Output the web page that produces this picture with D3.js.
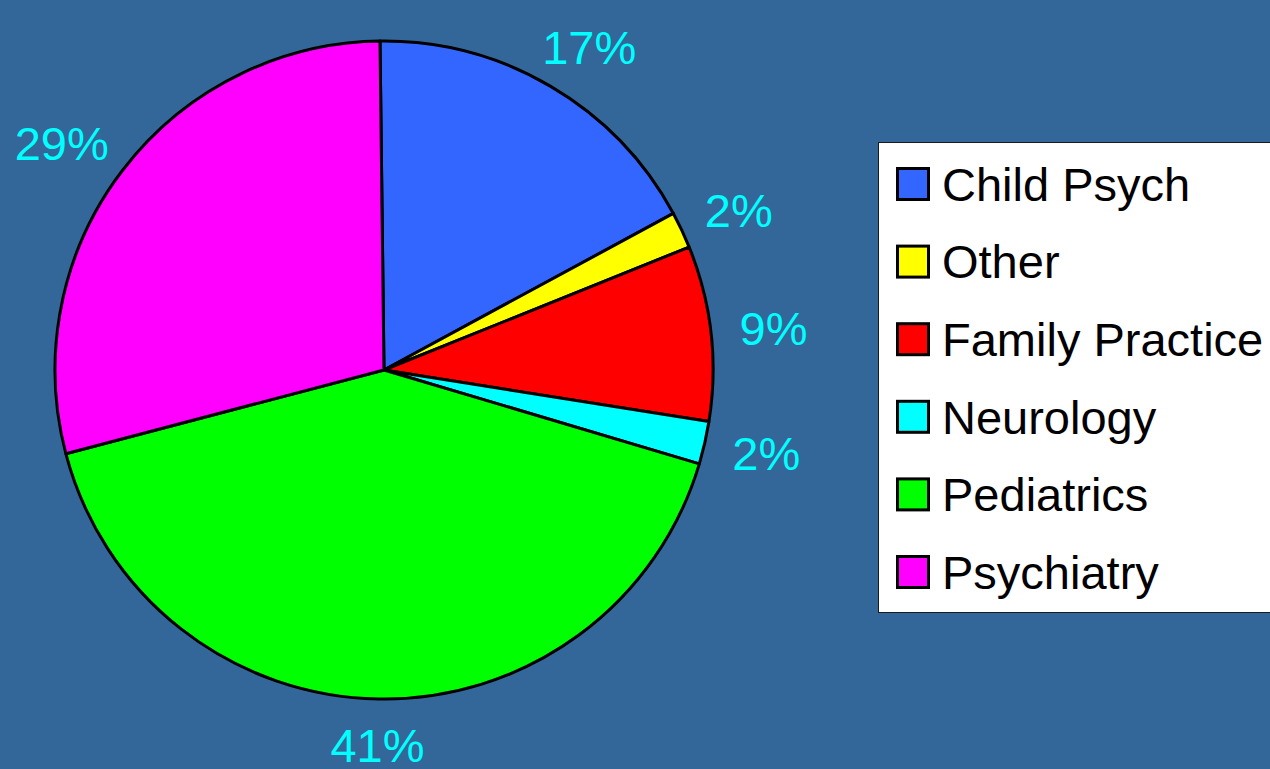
<!DOCTYPE html>
<html>
<head>
<meta charset="utf-8">
<script src="https://cdnjs.cloudflare.com/ajax/libs/d3/7.8.5/d3.min.js"></script>
<style>
  html, body { margin: 0; padding: 0; background: #336699; overflow: hidden; }
  text { font-family: "Liberation Sans", Arial, sans-serif; }
</style>
</head>
<body>
<div id="chart"></div>
<script>
var categories = ["Child Psych", "Other", "Family Practice", "Neurology", "Pediatrics", "Psychiatry"];
var values = [17.3, 1.8, 8.6, 2.1, 41.3, 28.9];
var colors = ["#3366ff", "#ffff00", "#ff0000", "#00ffff", "#00ff00", "#ff00ff"];

var width = 1270,
    height = 769;

var cx = 384, cy = 370, radius = 329;
var labelRadius = 358;
var fontSize = 47;

var svg = d3.select("#chart")
            .append("svg")
            .attr("width", width)
            .attr("height", height);

svg.append("rect")
   .attr("width", width)
   .attr("height", height)
   .attr("fill", "#336699");

var startOffset = -0.7 * Math.PI / 180;

var pie = d3.pie()
            .sort(null)
            .startAngle(startOffset)
            .endAngle(2 * Math.PI + startOffset);

var arc = d3.arc()
            .innerRadius(0)
            .outerRadius(radius);

var total = d3.sum(values);
var arcs = pie(values);

var g = svg.append("g")
           .attr("transform", "translate(" + cx + "," + cy + ")");

g.selectAll("path")
 .data(arcs)
 .enter().append("path")
 .attr("d", arc)
 .style("fill", function(d, i) { return colors[i]; })
 .style("stroke", "black")
 .style("stroke-width", 3)
 .style("stroke-linejoin", "round");

// outside-end labels, box pushed away from the edge point
var capH = fontSize * 0.716;
g.selectAll("text.pct")
 .data(arcs)
 .enter().append("text")
 .attr("class", "pct")
 .attr("font-size", fontSize)
 .attr("fill", "#00ffff")
 .attr("text-anchor", "middle")
 .text(function(d) { return Math.round(d.value / total * 100) + "%"; })
 .each(function(d) {
   var a = (d.startAngle + d.endAngle) / 2;
   var w = this.getComputedTextLength();
   var px = Math.sin(a) * labelRadius + Math.sin(a) * w / 2;
   var py = -Math.cos(a) * labelRadius - Math.cos(a) * capH / 2;
   d3.select(this).attr("x", px).attr("y", py + capH / 2);
 });

// legend
var legend = svg.append("g")
                .attr("transform", "translate(878,142)");

legend.append("rect")
      .attr("x", 0.5)
      .attr("y", 0.5)
      .attr("width", 420)
      .attr("height", 470)
      .attr("fill", "white")
      .attr("stroke", "#1a1a1a")
      .attr("stroke-width", 1);

var rowY = d3.scalePoint()
             .domain(categories)
             .range([42, 430]);

var rows = legend.selectAll("g.row")
                 .data(categories)
                 .enter().append("g")
                 .attr("class", "row")
                 .attr("transform", function(d) { return "translate(0," + rowY(d) + ")"; });

rows.append("rect")
    .attr("x", 19.5)
    .attr("y", -15.5)
    .attr("width", 31)
    .attr("height", 31)
    .attr("fill", function(d, i) { return colors[i]; })
    .attr("stroke", "black")
    .attr("stroke-width", 3);

rows.append("text")
    .attr("x", 64)
    .attr("y", capH / 2)
    .attr("font-size", fontSize)
    .attr("fill", "black")
    .text(function(d) { return d; });
</script>
</body>
</html>
